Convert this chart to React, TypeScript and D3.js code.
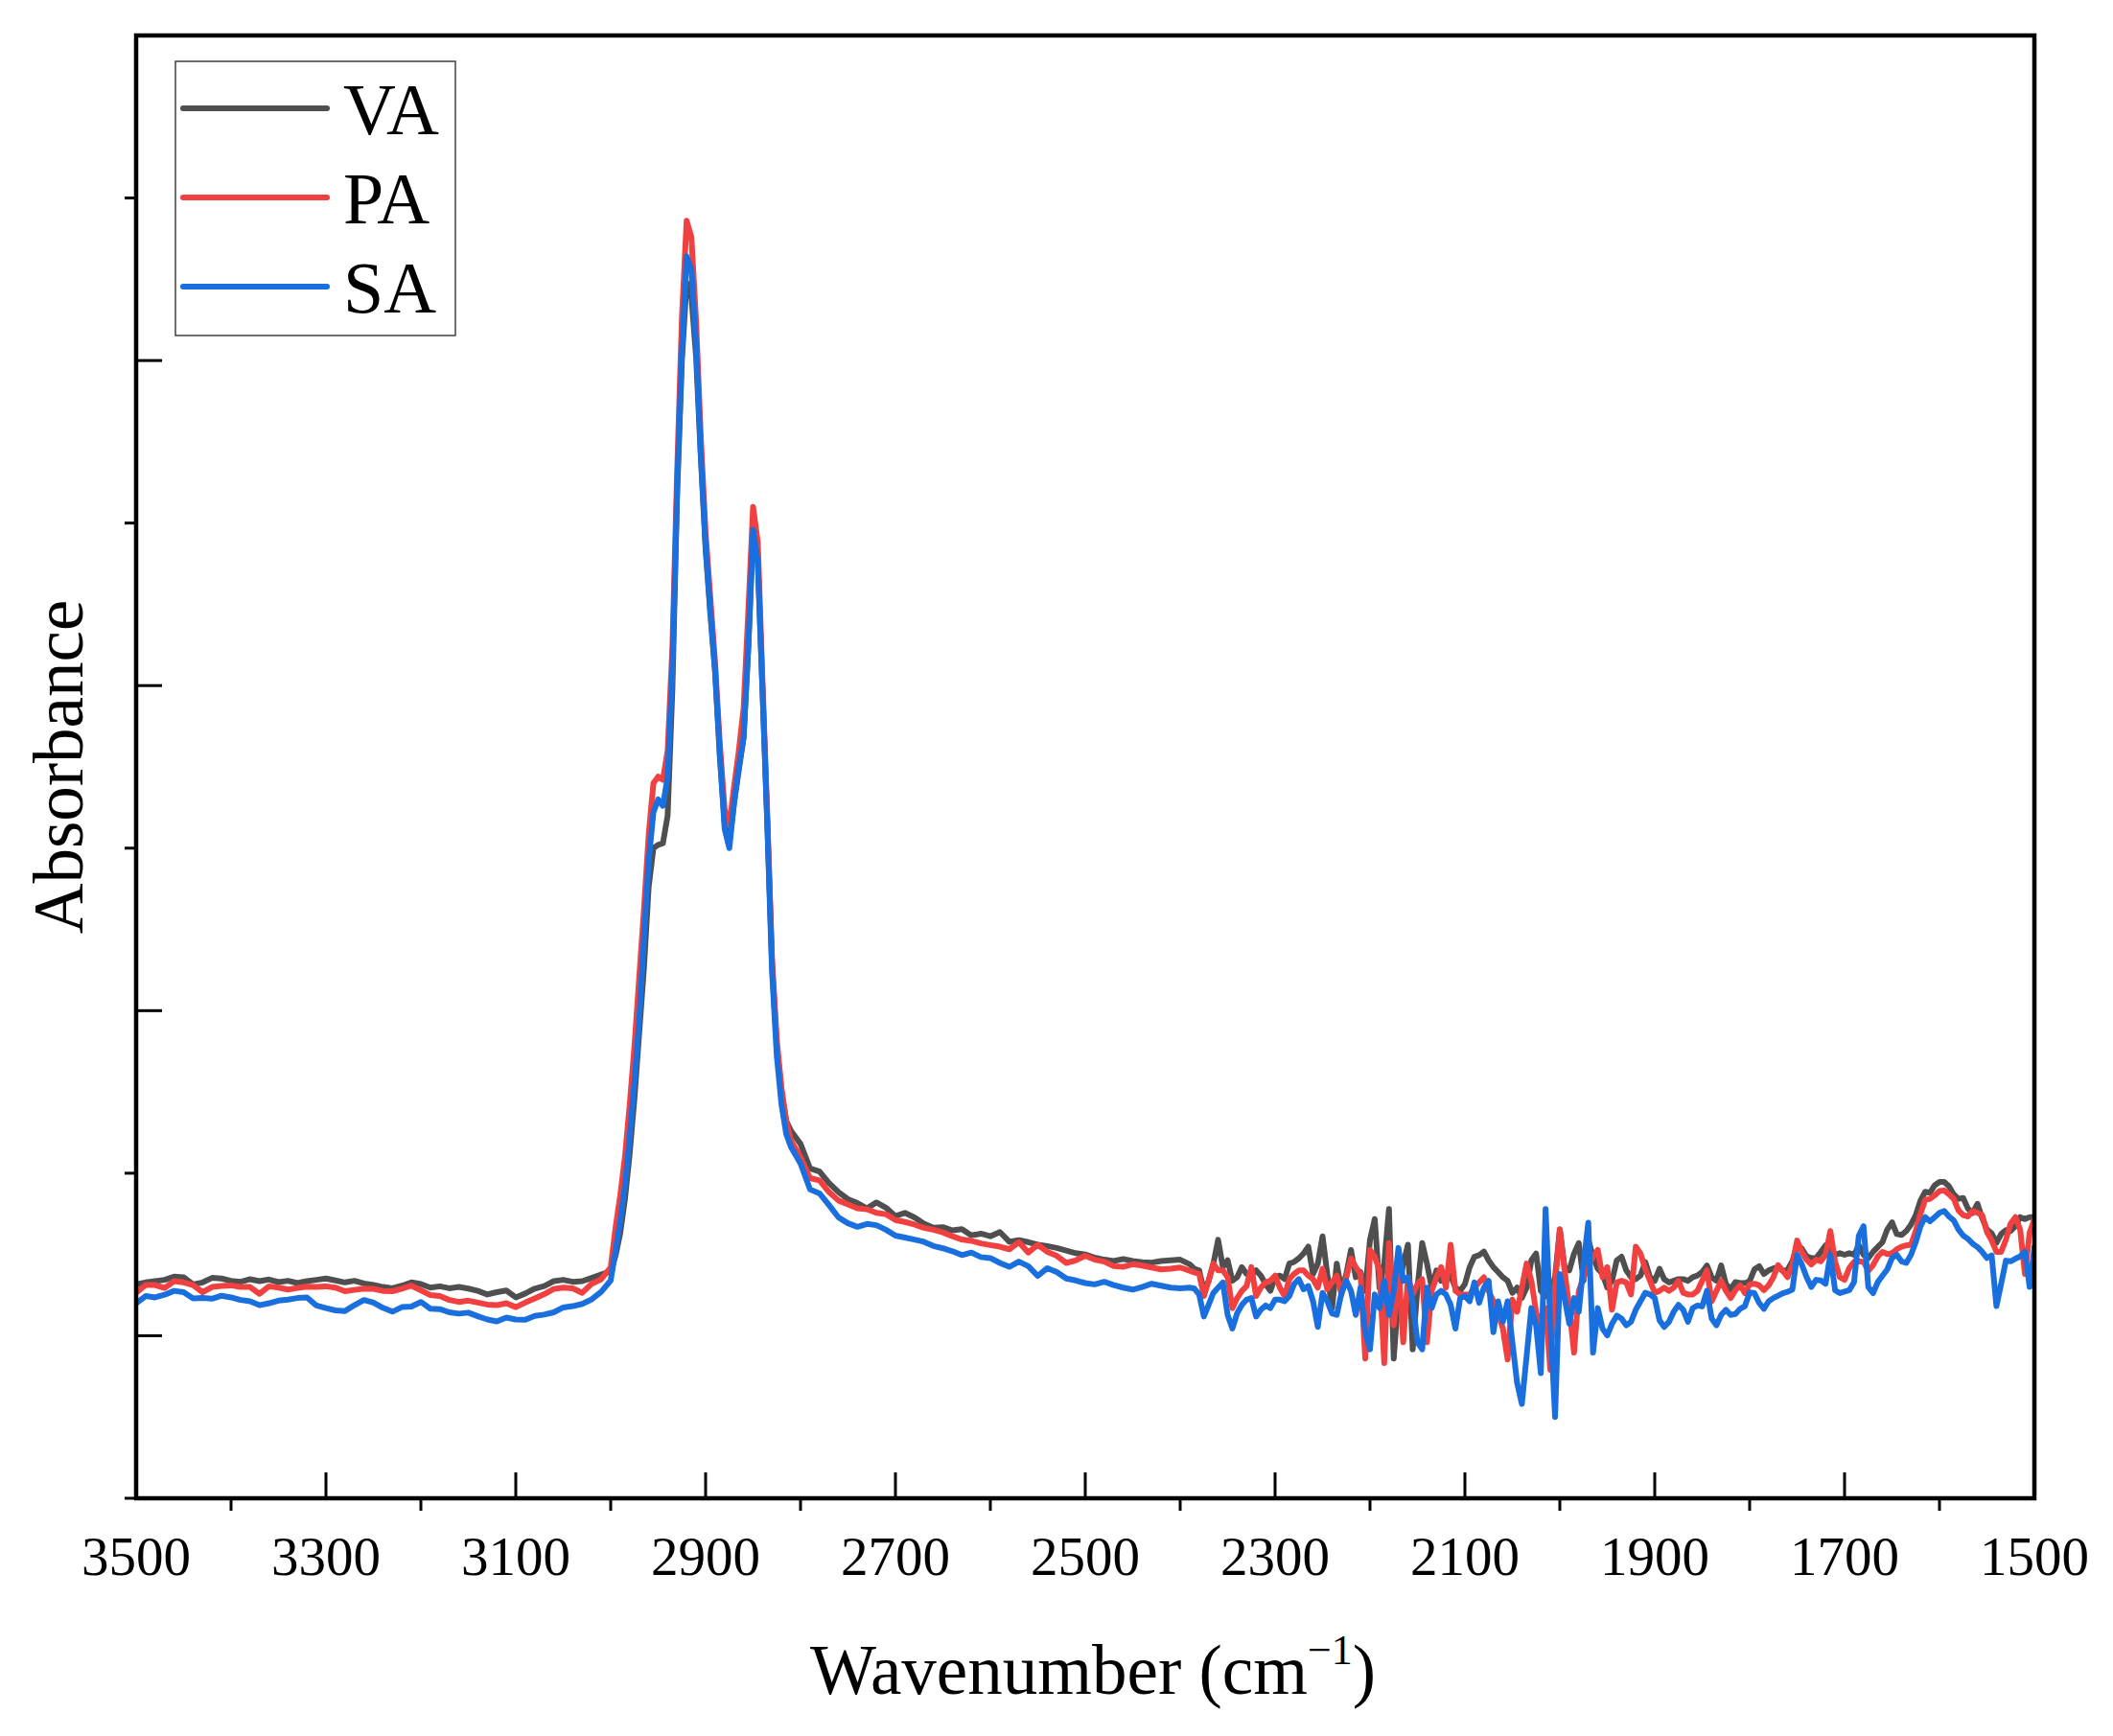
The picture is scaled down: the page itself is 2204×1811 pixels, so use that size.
import React from "react";
import * as d3 from "d3";

// wavenumber grid (cm-1), split by region
const WN_BASE = [
  3500, 3490, 3480, 3470, 3460, 3450, 3440, 3430, 3420, 3410,
  3400, 3390, 3380, 3370, 3360, 3350, 3340, 3330, 3320, 3310,
  3300, 3290, 3280, 3270, 3260, 3250, 3240, 3230, 3220, 3210,
  3200, 3190, 3180, 3170, 3160, 3150, 3140, 3130, 3120, 3110,
  3100, 3090, 3080, 3070, 3060, 3050, 3040, 3030, 3020, 3010,
  3000,
];
const WN_CH = [
  2995, 2990, 2985, 2980, 2975, 2970, 2965, 2960, 2955, 2950,
  2945, 2940, 2935, 2930, 2925, 2920, 2915, 2910, 2905, 2900,
  2895, 2890, 2885, 2880, 2875, 2870, 2865, 2860, 2855, 2850,
  2845, 2840, 2835, 2830, 2825, 2820, 2815, 2810, 2800, 2790,
];
const WN_TAIL = [
  2780, 2770, 2760, 2750, 2740, 2730, 2720, 2710, 2700, 2690,
  2680, 2670, 2660, 2650, 2640, 2630, 2620, 2610, 2600, 2590,
  2580, 2570, 2560, 2550, 2540, 2530, 2520, 2510, 2500, 2490,
  2480, 2470, 2460, 2450, 2440, 2430, 2420, 2410, 2400, 2390,
];
const WN_LOW = [
  2385, 2380, 2375, 2370, 2365, 2360, 2355, 2350, 2345, 2340,
  2335, 2330, 2325, 2320, 2315, 2310, 2305, 2300, 2295, 2290,
  2285, 2280, 2275, 2270, 2265, 2260, 2255, 2250, 2245, 2240,
  2235, 2230, 2225, 2220, 2215, 2210, 2205, 2200, 2195, 2190,
  2185, 2180, 2175, 2170, 2165, 2160, 2155, 2150, 2145, 2140,
  2135, 2130, 2125, 2120, 2115, 2110, 2105, 2100, 2095, 2090,
  2085, 2080, 2075, 2070, 2065, 2060, 2055, 2050, 2045, 2040,
  2035, 2030, 2025, 2020, 2015, 2010, 2005, 2000, 1995, 1990,
  1985, 1980, 1975, 1970, 1965, 1960, 1955, 1950, 1945, 1940,
  1935, 1930, 1925, 1920, 1915, 1910, 1905, 1900, 1895, 1890,
  1885, 1880, 1875, 1870, 1865, 1860, 1855, 1850, 1845, 1840,
  1835, 1830, 1825, 1820,
  1815, 1810, 1805, 1800, 1795, 1790, 1785, 1780, 1775, 1770,
  1765, 1760, 1755, 1750, 1745, 1740, 1735, 1730, 1725, 1720,
  1715, 1710, 1705, 1700, 1695, 1690, 1685, 1680, 1675, 1670,
  1665, 1660, 1655, 1650, 1645, 1640, 1635, 1630, 1625, 1620,
  1615, 1610, 1605, 1600, 1595, 1590, 1585, 1580, 1575, 1570,
  1565, 1560, 1555, 1550, 1545, 1540, 1535, 1530, 1525, 1520,
  1515, 1510, 1505, 1500,
];

// absorbance in milli-units
const VA_BASE = [
  15.8, 16.4, 16.8, 17.2, 18.2, 18.0, 15.8, 16.4, 17.8, 17.6,
  16.9, 16.6, 17.4, 16.8, 17.3, 16.5, 16.9, 16.2, 16.8, 17.2,
  17.6, 17.0, 16.4, 16.9, 16.1, 15.6, 15.0, 14.6, 15.4, 16.4,
  15.9, 14.8, 15.2, 14.6, 15.0, 14.5, 13.8, 12.7, 13.4, 13.9,
  11.8, 13.0, 14.5, 15.3, 16.8, 17.2, 16.6, 16.8, 17.8, 18.8,
  19.8,
];
const PA_BASE = [
  13.2, 15.6, 15.6, 14.7, 16.8, 16.4, 15.6, 13.4, 15.0, 15.3,
  15.5, 15.0, 15.0, 12.9, 15.2, 14.8, 14.2, 14.7, 15.1, 15.0,
  15.2, 14.8, 13.7, 14.1, 14.5, 14.4, 13.8, 13.7, 14.5, 15.4,
  14.0, 12.5, 12.2, 11.0, 10.4, 10.8, 10.2, 9.6, 9.4, 10.0,
  8.8, 10.2, 11.5, 12.8, 14.4, 14.8, 14.6, 13.2, 16.0, 17.4,
  21.0,
];
const SA_BASE = [
  10.0, 12.2, 11.8, 12.6, 13.8, 13.4, 11.5, 11.6, 11.4, 12.3,
  11.8, 11.0, 10.6, 9.4, 10.0, 10.8, 11.1, 11.6, 11.8, 9.3,
  8.5, 7.8, 7.6, 9.4, 11.0, 10.2, 8.6, 7.4, 8.8, 9.0,
  10.4, 8.3, 8.2, 7.2, 6.8, 7.1, 6.0, 5.0, 4.4, 5.6,
  5.0, 4.9, 6.1, 6.5, 7.2, 8.7, 9.1, 9.8, 11.2, 13.5,
  17.0,
];

const VA_CH = [
  24.5, 31.5, 42, 56, 73, 93, 113, 138, 150, 151,
  151.5, 160, 199, 259, 300, 324, 320, 301, 270, 242,
  222, 204, 178, 158, 152, 164, 174, 184, 212, 247,
  238, 198, 158, 114, 89, 75, 66, 63, 59, 51.5,
];
const PA_CH = [
  33, 43, 55, 71, 89, 110, 131, 154, 170, 172,
  171, 180, 212, 266, 313, 343, 338, 312, 276, 247,
  227, 207, 182, 162, 157, 169, 180, 193, 223, 255,
  244, 201, 160, 116, 91, 76, 66, 60, 55, 48.5,
];
const SA_CH = [
  26, 35, 46, 61, 78, 97, 122, 146, 161, 165,
  163, 172, 205, 261, 302, 332, 328, 305, 271, 243,
  223, 205, 179, 156, 150, 164, 175, 184, 212, 248,
  238, 198, 157, 112, 86, 71, 62, 58, 53, 45,
];

const VA_TAIL = [
  50.5, 47.0, 44.2, 42.0, 40.8, 39.2, 41.0, 39.4, 36.8, 37.8,
  36.4, 34.5, 33.2, 33.4, 32.4, 32.8, 30.9, 31.4, 30.6, 31.9,
  28.9, 29.4, 28.8, 28.0, 27.6, 27.0, 26.2, 25.4, 25.0, 24.0,
  23.4, 23.0, 23.6, 23.0, 22.6, 22.5, 23.0, 23.2, 23.4, 22.0,
];
const PA_TAIL = [
  47.8, 44.2, 41.6, 40.4, 39.2, 38.9, 37.8, 37.4, 35.6, 35.0,
  34.2, 33.2, 32.6, 31.8, 30.6, 29.6, 29.2, 28.4, 27.9, 27.4,
  26.6, 28.8, 25.6, 28.0, 25.8, 24.6, 22.4, 23.2, 24.6, 23.4,
  22.8, 21.4, 21.2, 22.0, 21.6, 21.0, 20.4, 20.6, 21.0, 20.0,
];
const SA_TAIL = [
  43.8, 40.2, 36.4, 34.6, 33.5, 34.4, 34.0, 32.6, 30.8, 30.2,
  29.6, 28.9, 27.6, 26.9, 26.0, 24.8, 25.6, 24.2, 23.9, 22.4,
  21.2, 22.8, 21.4, 18.4, 20.8, 19.6, 17.6, 17.0, 16.2, 15.8,
  16.6, 15.6, 14.8, 14.2, 15.0, 16.0, 15.4, 14.8, 14.6, 14.8,
];

const VA_LOW = [
  20.6, 20.1, 13.8, 16.9, 22.2, 29.5, 21.1, 23.2, 16.9, 18.0,
  21.1, 19.0, 18.5, 20.1, 18.5, 15.9, 13.8, 18.0, 18.5, 17.4,
  22.2, 22.7, 23.8, 25.3, 27.4, 19.0, 22.2, 30.6, 19.0, 8.5,
  22.2, 13.8, 19.0, 26.4, 18.0, 19.6, 13.8, 29.5, 35.9, 14.8,
  22.2, 39.0, -7.0, 12.7, 22.2, 28.0, -4.2, 14.8, 28.5, 22.2,
  14.8, 20.1, 16.9, 18.5, 18.5, 14.8, 13.8, 15.9, 21.1, 24.3,
  24.8, 25.9, 23.2, 21.1, 19.6, 18.0, 16.9, 13.2, 14.8, 11.6,
  14.8, 23.2, 25.3, 13.8, 12.2, 13.8, 18.0, 32.7, 21.1, 20.1,
  25.3, 28.5, 16.9, 29.5, 24.3, 20.6, 19.0, 14.8, 16.9, 23.2,
  24.3, 20.1, 18.0, 17.4, 18.5, 22.7, 18.0, 16.9, 20.6, 17.4,
  16.4, 16.9, 17.4, 17.4, 16.9, 18.0, 18.5, 19.6, 21.6, 18.0,
  16.9, 21.6, 15.9, 14.3,
  16.5, 16.2, 16.2, 16.8, 20.4, 21.4, 19.0, 20.1, 20.7, 21.1,
  19.9, 20.3, 22.9, 27.8, 26.8, 24.4, 23.9, 23.9, 25.8, 27.8,
  25.8, 24.9, 25.4, 24.9, 25.4, 24.9, 27.8, 24.9, 23.9, 25.8,
  27.3, 28.8, 32.7, 34.9, 31.3, 31.0, 32.2, 34.2, 37.1, 41.6,
  44.3, 44.0, 46.3, 47.3, 47.3, 46.0, 43.5, 42.1, 42.4, 39.1,
  37.8, 40.6, 36.2, 32.7, 31.5, 28.6, 31.3, 32.5, 32.2, 33.7,
  36.5, 35.9, 36.5, 36.5,
];
const PA_LOW = [
  19.5, 19.0, 12.2, 16.9, 22.2, 20.1, 20.1, 18.0, 8.5, 11.6,
  13.8, 15.3, 21.1, 12.2, 14.8, 16.4, 16.9, 18.5, 14.8, 12.2,
  17.4, 19.0, 20.1, 20.1, 18.5, 17.4, 14.8, 20.6, 14.3, 16.4,
  18.5, 12.7, 18.0, 23.8, 21.1, 19.0, -7.0, 26.4, 24.3, 20.1,
  -8.4, 28.5, 3.2, 21.1, -2.0, 18.0, 12.7, 15.9, 17.4, -2.0,
  13.8, 18.0, 21.1, 14.8, 28.0, 13.8, 12.7, 12.7, 12.7, 14.8,
  16.4, 18.0, 13.8, 10.6, 6.9, 2.2, -7.3, 11.1, 7.4, 14.8,
  22.2, 16.9, 7.4, 1.1, 8.5, -10.5, 15.9, 32.7, 20.1, 8.5,
  -5.2, 13.8, 18.0, 21.1, 24.3, 26.4, 18.0, 21.1, 8.0, 16.4,
  16.9, 16.4, 12.7, 27.4, 25.3, 20.6, 16.9, 13.2, 13.8, 14.8,
  13.8, 14.8, 16.9, 13.2, 12.7, 12.7, 13.8, 16.9, 20.1, 10.6,
  13.8, 16.9, 13.8, 11.6,
  14.0, 15.5, 13.1, 15.8, 16.0, 15.5, 14.0, 15.5, 18.0, 21.7,
  19.9, 18.0, 21.9, 29.3, 25.8, 23.4, 21.9, 23.4, 22.9, 24.9,
  32.2, 22.9, 18.0, 17.2, 20.9, 22.7, 22.9, 22.7, 19.9, 21.7,
  24.4, 25.8, 25.1, 25.4, 26.6, 27.4, 27.8, 28.0, 32.2, 37.6,
  41.8, 42.1, 43.2, 44.5, 44.7, 43.5, 42.1, 38.6, 37.1, 36.7,
  38.4, 37.8, 37.1, 31.9, 29.3, 25.8, 25.8, 29.6, 34.5, 36.5,
  32.7, 19.0, 31.7, 35.9,
];
const SA_LOW = [
  14.5, 12.7, 5.9, 9.5, 13.2, 14.8, 16.4, 6.4, 2.2, 6.9,
  9.5, 11.1, 11.6, 5.9, 8.0, 9.3, 8.5, 11.1, 11.1, 10.6,
  12.2, 15.9, 17.4, 14.3, 15.3, 10.6, 2.7, 13.2, 10.6, 6.9,
  6.4, 13.2, 16.9, 13.8, 6.4, 14.8, 1.1, -4.2, 12.7, 8.5,
  16.9, 6.4, 13.8, 27.0, 16.9, 18.0, 10.6, -2.0, -4.2, 14.8,
  8.5, 12.7, 13.8, 12.7, 9.5, 2.2, 11.6, 12.2, 10.6, 16.4,
  10.1, 14.8, 16.9, 1.1, 10.6, 4.3, 10.6, -2.0, -14.5, -21.0,
  -6.3, 8.5, 3.2, -11.5, 39.0, 4.3, -25.0, 19.0, 11.6, 3.7,
  11.6, 7.4, 22.2, 34.8, -5.2, 8.5, 2.2, 0.1, 3.7, 6.2,
  5.3, 3.2, 4.3, 8.0, 10.6, 13.2, 12.7, 11.6, 4.8, 2.7,
  4.3, 7.4, 9.5, 8.0, 4.3, 8.5, 9.3, 9.0, 13.8, 5.3,
  3.2, 6.4, 8.0, 6.4,
  6.7, 8.3, 9.1, 13.3, 13.1, 10.1, 8.3, 10.6, 11.6, 12.3,
  13.1, 13.5, 14.2, 24.9, 21.9, 18.0, 15.0, 17.2, 17.0, 16.0,
  24.9, 14.0, 13.1, 13.6, 14.0, 16.5, 30.8, 33.7, 15.0, 13.1,
  16.5, 18.5, 20.4, 23.9, 24.9, 22.9, 22.4, 24.9, 28.8, 33.7,
  36.5, 35.2, 36.5, 37.8, 38.4, 36.7, 35.5, 32.7, 30.8, 29.8,
  28.3, 27.3, 25.8, 23.9, 24.7, 9.1, 16.0, 23.1, 22.9, 23.7,
  24.4, 25.8, 15.0, 27.3,
];

const WAVENUMBER = [...WN_BASE, ...WN_CH, ...WN_TAIL, ...WN_LOW];
const VA = [...VA_BASE, ...VA_CH, ...VA_TAIL, ...VA_LOW];
const PA = [...PA_BASE, ...PA_CH, ...PA_TAIL, ...PA_LOW];
const SA = [...SA_BASE, ...SA_CH, ...SA_TAIL, ...SA_LOW];

const SERIES = [
  { name: "VA", values: VA, color: "#4f4f4f" },
  { name: "PA", values: PA, color: "#f14040" },
  { name: "SA", values: SA, color: "#1a6fdf" },
];

const X_MAJOR = [3500, 3300, 3100, 2900, 2700, 2500, 2300, 2100, 1900, 1700, 1500];
const X_MINOR = [3400, 3200, 3000, 2800, 2600, 2400, 2200, 2000, 1800, 1600];
const Y_MAJOR = [0, 100, 200, 300, 400];
const Y_MINOR = [-50, 50, 150, 250, 350];

const W = 2204;
const H = 1811;
const left = 142;
const right = 2122;
const top = 37;
const bottom = 1563;
const font = "'Liberation Serif', 'Times New Roman', serif";

const App: React.FC = () => {
  const x = d3.scaleLinear().domain([3500, 1500]).range([left, right]);
  const y = d3.scaleLinear().domain([-50, 400]).range([bottom, top]);

  const line = (vals: number[]) =>
    d3
      .line<number>()
      .defined((_, i) => vals[i] !== undefined)
      .x((d) => x(d))
      .y((_, i) => y(vals[i]))(WAVENUMBER);

  return (
    <svg
      width={W}
      height={H}
      style={{ position: "absolute", left: 0, top: 0, background: "#fff" }}
      fontFamily={font}
    >
      <defs>
        <clipPath id="plot">
          <rect x={left} y={top} width={right - left} height={bottom - top} />
        </clipPath>
      </defs>
      <rect x={0} y={0} width={W} height={H} fill="#fff" />

      <g clipPath="url(#plot)">
        {SERIES.map((s) => (
          <path
            key={s.name}
            d={line(s.values) || ""}
            fill="none"
            stroke={s.color}
            strokeWidth={6}
            strokeLinejoin="round"
            strokeLinecap="round"
          />
        ))}
      </g>

      {/* ticks: major inward, minor outward */}
      <g stroke="#000" strokeWidth={3}>
        {X_MAJOR.map((t) => (
          <line key={"xM" + t} x1={x(t)} x2={x(t)} y1={bottom} y2={bottom - 27} />
        ))}
        {X_MINOR.map((t) => (
          <line key={"xm" + t} x1={x(t)} x2={x(t)} y1={bottom} y2={bottom + 13} />
        ))}
        {Y_MAJOR.map((t) => (
          <line key={"yM" + t} x1={left} x2={left + 27} y1={y(t)} y2={y(t)} />
        ))}
        {Y_MINOR.map((t) => (
          <line key={"ym" + t} x1={left} x2={left - 12} y1={y(t)} y2={y(t)} />
        ))}
      </g>

      <rect
        x={left}
        y={top}
        width={right - left}
        height={bottom - top}
        fill="none"
        stroke="#000"
        strokeWidth={4.5}
      />

      {X_MAJOR.map((t) => (
        <text key={"xl" + t} x={x(t)} y={1643} fontSize={57} textAnchor="middle">
          {t}
        </text>
      ))}

      <text x={1140} y={1767} fontSize={73} textAnchor="middle">
        Wavenumber (cm
        <tspan fontSize={44} dy={-31}>
          −1
        </tspan>
        <tspan dy={31}>)</tspan>
      </text>

      <text
        transform={`translate(86, ${(top + bottom) / 2}) rotate(-90)`}
        fontSize={73}
        textAnchor="middle"
      >
        Absorbance
      </text>

      {/* legend */}
      <rect x={183} y={64} width={292} height={286} fill="#fff" stroke="#404040" strokeWidth={1.5} />
      {SERIES.map((s, i) => (
        <g key={"lg" + s.name}>
          <line
            x1={191}
            x2={341}
            y1={113 + i * 93}
            y2={113 + i * 93}
            stroke={s.color}
            strokeWidth={6}
            strokeLinecap="round"
          />
          <text x={358} y={140 + i * 93} fontSize={76}>
            {s.name}
          </text>
        </g>
      ))}
    </svg>
  );
};

export default App;
